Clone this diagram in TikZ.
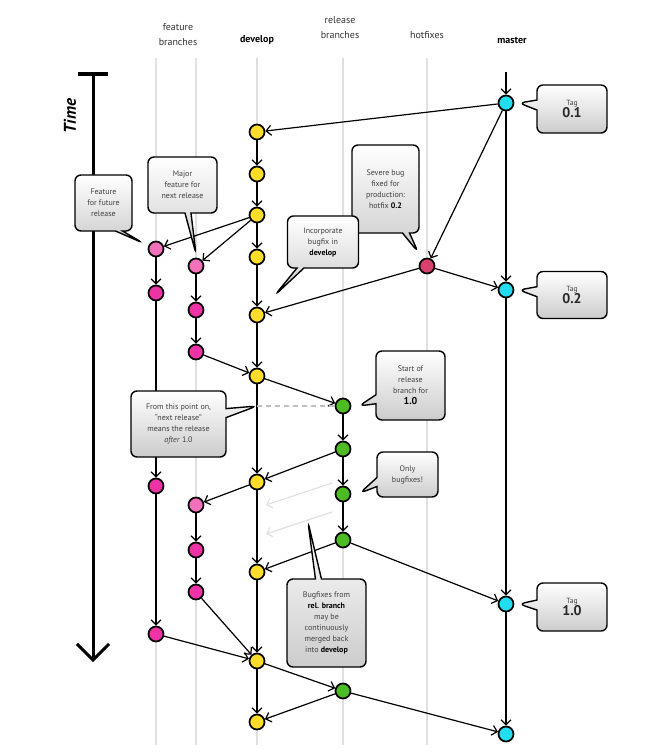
\documentclass[tikz,border=0pt]{standalone}
\usepackage{fontspec}
\setmainfont{PT Sans}
\usetikzlibrary{arrows.meta,shapes.callouts}

\definecolor{devyellow}{RGB}{255,221,40}
\definecolor{featpink}{RGB}{238,52,165}
\definecolor{featlight}{RGB}{243,112,186}
\definecolor{relgreen}{RGB}{76,187,36}
\definecolor{mastcyan}{RGB}{34,221,240}
\definecolor{hotred}{RGB}{217,65,106}

\begin{document}
\begin{tikzpicture}[
    x=1pt, y=-1pt,
    commit/.style={circle, draw, line width=1.7pt, minimum size=15pt, inner sep=0pt},
    flow/.style={-{Straight Barb[length=5pt,width=10pt]}, line width=1.2pt},
    ghost/.style={flow, black!12},
    lane/.style={line width=2.5pt, black!12},
    bubble/.style={rectangle callout, draw, line width=1.4pt, rounded corners=6pt,
        top color=white, bottom color=black!20, align=center, inner sep=1pt,
        font=\fontsize{8}{11}\selectfont, text=black!75, callout pointer width=7pt},
    header/.style={align=center, font=\fontsize{10}{15}\selectfont, text=black!80}
]
    \useasboundingbox (0,0) rectangle (652,751);

    % Titel der Spalten
    \node[header] (hfeat) at (178,35) {feature\\branches};
    \node[header, font=\fontsize{10}{15}\selectfont\bfseries, text=black] (hdev) at (257,40) {develop};
    \node[header] (hrel) at (340,28) {release\\branches};
    \node[header] (hhot) at (427,35) {hotfixes};
    \node[header, font=\fontsize{10}{15}\selectfont\bfseries, text=black] (hmast) at (512,40) {master};

    % Zeitachse
    \node[rotate=90, font=\fontsize{17}{17}\selectfont\bfseries\itshape] (time) at (70,116) {Time};
    \coordinate (ttop) at (93,74);
    \coordinate (tbot) at (93,662);
    \draw[line width=4pt] (78,74) -- (108,74);
    \draw[line width=3pt, -{Straight Barb[length=16pt,width=32pt,line width=3pt]}] (ttop) -- (tbot);

    % Graue Bahnen
    \draw[lane] (156,58) -- (156,745);
    \draw[lane] (196,58) -- (196,745);
    \draw[lane] (257,58) -- (257,745);
    \draw[lane] (343,58) -- (343,745);
    \draw[lane] (427,58) -- (427,745);

    % master
    \coordinate (mtop) at (506,72);
    \node[commit, fill=mastcyan] (m1) at (506,103) {};
    \node[commit, fill=mastcyan] (m2) at (506,290) {};
    \node[commit, fill=mastcyan] (m3) at (506,604) {};
    \node[commit, fill=mastcyan] (m4) at (506,734) {};

    % hotfix
    \node[commit, fill=hotred] (h1) at (427,266) {};

    % develop
    \node[commit, fill=devyellow] (d1) at (257,132) {};
    \node[commit, fill=devyellow] (d2) at (257,174) {};
    \node[commit, fill=devyellow] (d3) at (257,215) {};
    \node[commit, fill=devyellow] (d4) at (257,257) {};
    \node[commit, fill=devyellow] (d5) at (257,315) {};
    \node[commit, fill=devyellow] (d6) at (257,376) {};
    \node[commit, fill=devyellow] (d7) at (257,482) {};
    \node[commit, fill=devyellow] (d8) at (257,572) {};
    \node[commit, fill=devyellow] (d9) at (257,661) {};
    \node[commit, fill=devyellow] (d10) at (257,722) {};

    % feature branches
    \node[commit, fill=featlight] (f1a) at (156,249) {};
    \node[commit, fill=featpink] (f1b) at (156,293) {};
    \node[commit, fill=featpink] (f1c) at (156,486) {};
    \node[commit, fill=featpink] (f1d) at (156,634) {};
    \node[commit, fill=featlight] (f2a) at (196,266) {};
    \node[commit, fill=featpink] (f2b) at (196,310) {};
    \node[commit, fill=featpink] (f2c) at (196,352) {};
    \node[commit, fill=featlight] (f2d) at (196,505) {};
    \node[commit, fill=featpink] (f2e) at (196,550) {};
    \node[commit, fill=featpink] (f2f) at (196,592) {};

    % release branches
    \node[commit, fill=relgreen] (r1) at (343,406) {};
    \node[commit, fill=relgreen] (r2) at (343,449) {};
    \node[commit, fill=relgreen] (r3) at (343,494) {};
    \node[commit, fill=relgreen] (r4) at (343,540) {};
    \node[commit, fill=relgreen] (r5) at (343,691) {};

    % Verbindungen master und hotfix
    \draw[flow] (mtop) -- (m1);
    \draw[flow] (m1) -- (m2);
    \draw[flow] (m2) -- (m3);
    \draw[flow] (m3) -- (m4);
    \draw[flow] (m1) -- (d1);
    \draw[flow] (m1) -- (h1);
    \draw[flow] (h1) -- (m2);
    \draw[flow] (h1) -- (d5);

    % Verbindungen develop
    \draw[flow] (d1) -- (d2);
    \draw[flow] (d2) -- (d3);
    \draw[flow] (d3) -- (d4);
    \draw[flow] (d4) -- (d5);
    \draw[flow] (d5) -- (d6);
    \draw[flow] (d6) -- (d7);
    \draw[flow] (d7) -- (d8);
    \draw[flow] (d8) -- (d9);
    \draw[flow] (d9) -- (d10);

    % Verbindungen features
    \draw[flow] (d3) -- (f1a);
    \draw[flow] (d3) -- (f2a);
    \draw[flow] (f1a) -- (f1b);
    \draw[flow] (f1b) -- (f1c);
    \draw[flow] (f1c) -- (f1d);
    \draw[flow] (f1d) -- (d9);
    \draw[flow] (f2a) -- (f2b);
    \draw[flow] (f2b) -- (f2c);
    \draw[flow] (f2c) -- (d6);
    \draw[flow] (d7) -- (f2d);
    \draw[flow] (f2d) -- (f2e);
    \draw[flow] (f2e) -- (f2f);
    \draw[flow] (f2f) -- (d9);

    % Verbindungen release
    \draw[flow] (d6) -- (r1);
    \draw[flow] (r1) -- (r2);
    \draw[flow] (r2) -- (r3);
    \draw[flow] (r3) -- (r4);
    \draw[flow] (r2) -- (d7);
    \draw[flow] (r4) -- (d8);
    \draw[flow] (r4) -- (m3);
    \draw[flow] (d9) -- (r5);
    \draw[flow] (r5) -- (d10);
    \draw[flow] (r5) -- (m4);

    % Angedeutete Merges zurueck
    \coordinate (g1s) at (332,483);
    \coordinate (g1e) at (266,505);
    \coordinate (g2s) at (332,512);
    \coordinate (g2e) at (266,534);
    \draw[ghost] (g1s) -- (g1e);
    \draw[ghost] (g2s) -- (g2e);
    \coordinate (cut) at (257,406);
    \draw[dashed, black!25, line width=1.2pt, dash pattern=on 5pt off 4pt] (cut) -- (r1);

    % Sprechblasen
    \node[bubble, minimum width=70pt, minimum height=48pt, callout absolute pointer={(519,103)}, callout pointer width=10pt] (tag1) at (572,109)
        {{\fontsize{7.5}{9}\selectfont Tag}\\[-1pt]{\fontsize{14}{15}\selectfont\bfseries\color{black!85}0.1}};
    \node[bubble, minimum width=70pt, minimum height=47pt, callout absolute pointer={(519,290)}, callout pointer width=10pt] (tag2) at (572,295)
        {{\fontsize{7.5}{9}\selectfont Tag}\\[-1pt]{\fontsize{14}{15}\selectfont\bfseries\color{black!85}0.2}};
    \node[bubble, minimum width=70pt, minimum height=48pt, callout absolute pointer={(519,604)}, callout pointer width=10pt] (tag3) at (572,607)
        {{\fontsize{7.5}{9}\selectfont Tag}\\[-1pt]{\fontsize{14}{15}\selectfont\bfseries\color{black!85}1.0}};
    \node[bubble, minimum width=57pt, minimum height=56pt, callout absolute pointer={(143,243)}] (future) at (103.5,203)
        {Feature\\for future\\release};
    \node[bubble, minimum width=69pt, minimum height=56pt, callout absolute pointer={(196,254)}, callout pointer width=6pt] (major) at (182.5,185)
        {Major\\feature for\\next release};
    \node[bubble, minimum width=67pt, minimum height=88pt, callout absolute pointer={(418,252)}] (severe) at (385.5,189)
        {Severe bug\\fixed for\\production:\\hotfix \textbf{\color{black}0.2}};
    \node[bubble, minimum width=71pt, minimum height=52pt, callout absolute pointer={(275,295)}] (incorp) at (323,242)
        {Incorporate\\bugfix in\\\textbf{\color{black}develop}};
    \node[bubble, minimum width=69pt, minimum height=69pt, callout absolute pointer={(359,406)}, callout pointer width=9pt] (start) at (410.5,385.5)
        {Start of\\release\\branch for\\{\fontsize{10}{12}\selectfont\bfseries\color{black}1.0}};
    \node[bubble, minimum width=61pt, minimum height=45pt, callout absolute pointer={(360,493)}, callout pointer width=9pt] (only) at (407.5,474.5)
        {Only\\bugfixes!};
    \node[bubble, minimum width=95pt, minimum height=66pt, callout absolute pointer={(257,406)}, callout pointer width=9pt] (nextrel) at (178.5,424)
        {From this point on,\\``next release''\\means the release\\\textit{after} 1.0};
    \node[bubble, minimum width=79pt, minimum height=88pt, callout absolute pointer={(308,522)}, callout pointer width=6pt] (merged) at (326.5,623)
        {Bugfixes from\\\textbf{\color{black}rel. branch}\\may be\\continuously\\merged back\\into \textbf{\color{black}develop}};
\end{tikzpicture}
\end{document}
